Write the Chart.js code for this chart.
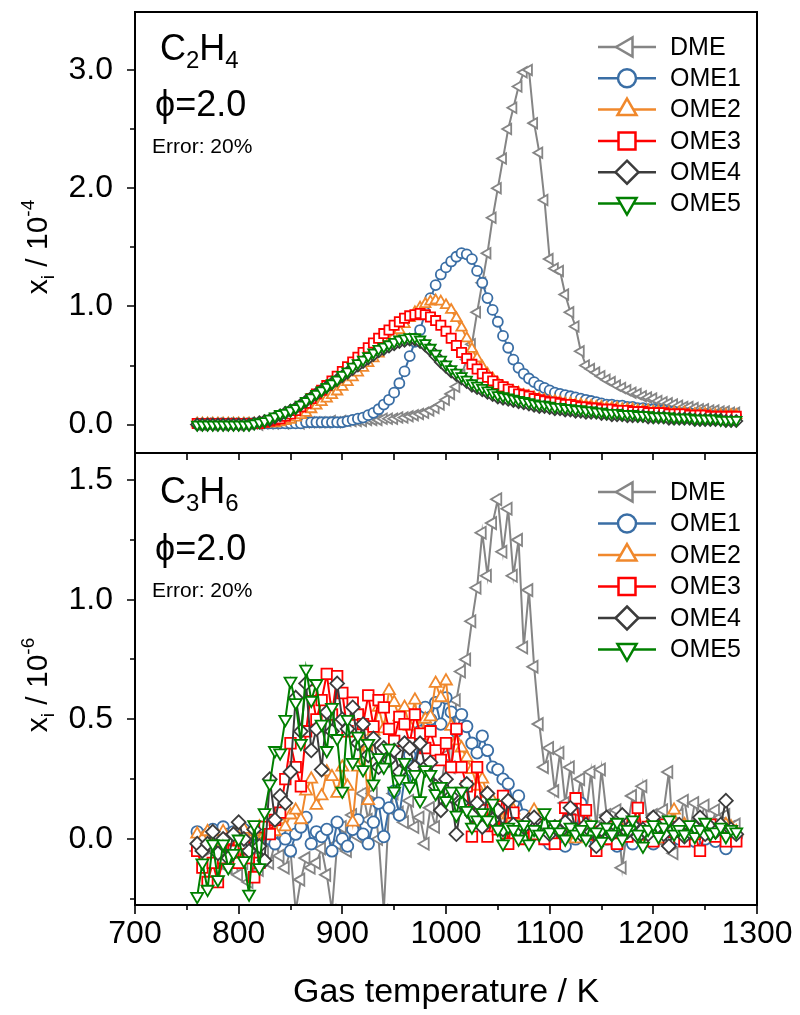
<!DOCTYPE html>
<html>
<head>
<meta charset="utf-8">
<script src="https://cdn.jsdelivr.net/npm/chart.js@4.4.1/dist/chart.umd.min.js"></script>
<style>
  html, body { margin: 0; padding: 0; background: #fff; }
  #wrap { position: relative; width: 800px; height: 1015px; }
  #wrap canvas { position: absolute; left: 0; top: 0; }
</style>
</head>
<body>
<div id="wrap">
  <canvas id="topPanel" width="800" height="1015"></canvas>
  <canvas id="bottomPanel" width="800" height="1015"></canvas>
</div>
<script>
// gas temperature grid (K)
const temps = [
  760, 765, 770, 775, 780, 785, 790, 795, 800, 805,
  810, 815, 820, 825, 830, 835, 840, 845, 850, 855,
  860, 865, 870, 875, 880, 885, 890, 895, 900, 905,
  910, 915, 920, 925, 930, 935, 940, 945, 950, 955,
  960, 965, 970, 975, 980, 985, 990, 995, 1000, 1005,
  1010, 1015, 1020, 1025, 1030, 1035, 1040, 1045, 1050, 1055,
  1060, 1065, 1070, 1075, 1080, 1085, 1090, 1095, 1100, 1105,
  1110, 1115, 1120, 1125, 1130, 1135, 1140, 1145, 1150, 1155,
  1160, 1165, 1170, 1175, 1180, 1185, 1190, 1195, 1200, 1205,
  1210, 1215, 1220, 1225, 1230, 1235, 1240, 1245, 1250, 1255,
  1260, 1265, 1270, 1275, 1280
];

const seriesNames = ['DME', 'OME1', 'OME2', 'OME3', 'OME4', 'OME5'];
const xTicks = [700, 800, 900, 1000, 1100, 1200, 1300];
const xMinor = [750, 850, 950, 1050, 1150, 1250];

// C2H4 mole fraction, x 10^-4
const c2h4Dme = [
  0.00, 0.00, 0.01, 0.00, 0.01, 0.00, 0.01, 0.01, 0.00, 0.01,
  0.01, 0.01, 0.00, 0.01, 0.01, 0.01, 0.02, 0.01, 0.02, 0.02,
  0.01, 0.02, 0.02, 0.02, 0.02, 0.02, 0.03, 0.02, 0.03, 0.03,
  0.03, 0.03, 0.03, 0.04, 0.04, 0.04, 0.05, 0.05, 0.05, 0.06,
  0.06, 0.07, 0.08, 0.09, 0.10, 0.12, 0.14, 0.17, 0.21, 0.26,
  0.32, 0.42, 0.55, 0.68, 0.95, 1.20, 1.45, 1.75, 2.00, 2.25,
  2.50, 2.68, 2.86, 2.98, 3.00, 2.55, 2.30, 1.90, 1.40, 1.32,
  1.30, 1.10, 0.95, 0.83, 0.62, 0.50, 0.47, 0.44, 0.41, 0.38,
  0.36, 0.33, 0.31, 0.29, 0.27, 0.26, 0.24, 0.23, 0.22, 0.20,
  0.19, 0.18, 0.17, 0.16, 0.15, 0.15, 0.14, 0.13, 0.13, 0.12,
  0.12, 0.11, 0.11, 0.10, 0.10
];
const c2h4Ome1 = [
  0.01, 0.01, 0.01, 0.01, 0.01, 0.01, 0.01, 0.01, 0.01, 0.01,
  0.01, 0.01, 0.01, 0.01, 0.01, 0.01, 0.01, 0.01, 0.01, 0.01,
  0.01, 0.02, 0.02, 0.02, 0.02, 0.02, 0.02, 0.02, 0.02, 0.03,
  0.04, 0.05, 0.06, 0.08, 0.10, 0.13, 0.17, 0.21, 0.27, 0.35,
  0.45, 0.58, 0.70, 0.80, 0.95, 1.07, 1.18, 1.27, 1.33, 1.38,
  1.42, 1.45, 1.44, 1.40, 1.30, 1.20, 1.07, 0.97, 0.87, 0.75,
  0.65, 0.55, 0.48, 0.43, 0.39, 0.36, 0.33, 0.31, 0.29, 0.27,
  0.26, 0.25, 0.24, 0.23, 0.22, 0.21, 0.20, 0.19, 0.18, 0.17,
  0.17, 0.16, 0.16, 0.15, 0.15, 0.14, 0.14, 0.13, 0.13, 0.12,
  0.12, 0.11, 0.11, 0.10, 0.10, 0.10, 0.09, 0.09, 0.09, 0.08,
  0.08, 0.08, 0.08, 0.07, 0.07
];
const c2h4Ome2 = [
  0.01, 0.01, 0.01, 0.01, 0.01, 0.01, 0.01, 0.01, 0.01, 0.01,
  0.01, 0.01, 0.01, 0.01, 0.01, 0.01, 0.02, 0.03, 0.04, 0.06,
  0.08, 0.10, 0.13, 0.16, 0.19, 0.22, 0.25, 0.28, 0.32, 0.36,
  0.40, 0.44, 0.48, 0.52, 0.56, 0.60, 0.65, 0.70, 0.75, 0.80,
  0.85, 0.90, 0.95, 0.99, 1.02, 1.04, 1.05, 1.04, 1.01, 0.97,
  0.90, 0.82, 0.73, 0.64, 0.56, 0.49, 0.43, 0.39, 0.35, 0.32,
  0.30, 0.28, 0.27, 0.25, 0.24, 0.23, 0.22, 0.21, 0.20, 0.20,
  0.19, 0.18, 0.18, 0.17, 0.17, 0.16, 0.16, 0.15, 0.15, 0.14,
  0.14, 0.14, 0.13, 0.13, 0.13, 0.12, 0.12, 0.12, 0.11, 0.11,
  0.11, 0.10, 0.10, 0.10, 0.10, 0.09, 0.09, 0.09, 0.09, 0.08,
  0.08, 0.08, 0.08, 0.08, 0.08
];
const c2h4Ome3 = [
  0.01, 0.01, 0.01, 0.01, 0.01, 0.01, 0.01, 0.01, 0.01, 0.01,
  0.01, 0.01, 0.01, 0.02, 0.03, 0.04, 0.05, 0.07, 0.09, 0.12,
  0.15, 0.18, 0.22, 0.26, 0.29, 0.33, 0.37, 0.41, 0.45, 0.49,
  0.53, 0.57, 0.61, 0.65, 0.69, 0.73, 0.77, 0.80, 0.84, 0.87,
  0.90, 0.92, 0.93, 0.94, 0.93, 0.91, 0.88, 0.84, 0.79, 0.73,
  0.67, 0.61, 0.56, 0.51, 0.47, 0.43, 0.40, 0.37, 0.34, 0.32,
  0.30, 0.28, 0.26, 0.25, 0.24, 0.22, 0.21, 0.20, 0.19, 0.19,
  0.18, 0.17, 0.17, 0.16, 0.15, 0.15, 0.14, 0.14, 0.13, 0.13,
  0.13, 0.12, 0.12, 0.12, 0.11, 0.11, 0.11, 0.10, 0.10, 0.10,
  0.10, 0.09, 0.09, 0.09, 0.09, 0.08, 0.08, 0.08, 0.08, 0.07,
  0.07, 0.07, 0.07, 0.07, 0.07
];
const c2h4Ome4 = [
  0.00, 0.00, 0.00, 0.00, 0.00, 0.00, 0.00, 0.00, 0.00, 0.00,
  0.00, 0.01, 0.02, 0.03, 0.04, 0.06, 0.08, 0.10, 0.12, 0.14,
  0.17, 0.20, 0.23, 0.26, 0.29, 0.32, 0.35, 0.38, 0.41, 0.44,
  0.47, 0.50, 0.53, 0.56, 0.59, 0.62, 0.64, 0.66, 0.68, 0.70,
  0.71, 0.72, 0.72, 0.70, 0.67, 0.63, 0.58, 0.53, 0.49, 0.45,
  0.42, 0.39, 0.36, 0.33, 0.31, 0.29, 0.27, 0.25, 0.23, 0.22,
  0.21, 0.20, 0.19, 0.18, 0.17, 0.16, 0.15, 0.15, 0.14, 0.13,
  0.13, 0.12, 0.12, 0.11, 0.11, 0.10, 0.10, 0.10, 0.09, 0.09,
  0.08, 0.08, 0.08, 0.07, 0.07, 0.07, 0.07, 0.06, 0.06, 0.06,
  0.06, 0.05, 0.05, 0.05, 0.05, 0.05, 0.04, 0.04, 0.04, 0.04,
  0.04, 0.04, 0.03, 0.03, 0.03
];
const c2h4Ome5 = [
  0.00, 0.00, 0.00, 0.00, 0.00, 0.00, 0.00, 0.00, 0.00, 0.00,
  0.00, 0.01, 0.02, 0.03, 0.05, 0.07, 0.09, 0.10, 0.12, 0.14,
  0.17, 0.20, 0.23, 0.26, 0.29, 0.32, 0.35, 0.38, 0.42, 0.45,
  0.49, 0.52, 0.55, 0.58, 0.61, 0.64, 0.66, 0.68, 0.70, 0.72,
  0.73, 0.74, 0.74, 0.72, 0.69, 0.65, 0.60, 0.55, 0.51, 0.47,
  0.44, 0.41, 0.38, 0.35, 0.33, 0.31, 0.29, 0.27, 0.25, 0.24,
  0.23, 0.22, 0.21, 0.20, 0.19, 0.18, 0.17, 0.17, 0.16, 0.15,
  0.15, 0.14, 0.14, 0.13, 0.13, 0.12, 0.12, 0.11, 0.11, 0.10,
  0.10, 0.10, 0.09, 0.09, 0.09, 0.08, 0.08, 0.08, 0.07, 0.07,
  0.07, 0.07, 0.06, 0.06, 0.06, 0.06, 0.05, 0.05, 0.05, 0.05,
  0.05, 0.04, 0.04, 0.04, 0.04
];

// C3H6 mole fraction, x 10^-6
const c3h6Dme = [
  -0.05, 0.00, -0.08, -0.02, -0.10, -0.04, -0.12, -0.06, -0.15, -0.10,
  -0.18, -0.08, -0.13, -0.05, -0.10, -0.02, -0.07, -0.12, -0.05, -0.30,
  -0.17, -0.08, -0.12, -0.10, -0.04, -0.15, -0.30, -0.02, 0.05, -0.05,
  0.10, 0.01, 0.19, 0.08, 0.19, 0.00, -0.30, 0.13, 0.19, 0.11,
  0.07, 0.16, 0.05, 0.09, -0.02, 0.13, 0.05, 0.22, 0.35, 0.30,
  0.58, 0.70, 0.75, 0.91, 1.05, 1.28, 1.10, 1.32, 1.42, 1.20,
  1.38, 1.10, 1.25, 0.80, 1.04, 0.72, 0.48, 0.30, 0.38, 0.20,
  0.36, 0.15, 0.30, 0.12, 0.25, 0.10, 0.28, 0.05, 0.29, 0.10,
  0.05, 0.12, -0.12, 0.05, 0.18, 0.02, 0.22, 0.05, 0.10, 0.00,
  0.12, 0.28, -0.06, 0.10, 0.16, 0.03, 0.15, 0.08, 0.14, 0.02,
  0.12, 0.09, 0.10, 0.05, 0.06
];
const c3h6Ome1 = [
  0.03, -0.02, 0.02, 0.04, 0.00, 0.05, 0.02, 0.03, -0.01, 0.04,
  0.01, 0.02, -0.02, 0.03, 0.00, -0.02, 0.04, 0.00, -0.05, 0.02,
  0.05, 0.09, -0.02, 0.03, 0.01, 0.04, -0.05, 0.07, 0.00, -0.03,
  0.04, 0.08, 0.02, -0.02, 0.07, 0.15, 0.01, 0.13, 0.20, 0.10,
  0.25, 0.35, 0.30, 0.45, 0.55, 0.50, 0.57, 0.48, 0.59, 0.53,
  0.45, 0.52, 0.47, 0.40, 0.36, 0.43, 0.37, 0.30, 0.29, 0.25,
  0.23, 0.15, 0.18, 0.10, 0.05, 0.03, 0.02, 0.00, -0.02, 0.01,
  0.04, -0.03, 0.02, 0.00, 0.15, 0.01, 0.03, -0.02, 0.02, 0.00,
  0.05, -0.03, 0.02, 0.04, -0.02, 0.03, 0.00, 0.02, -0.02, 0.04,
  0.01, -0.01, 0.03, 0.00, 0.05, 0.02, -0.01, 0.04, 0.00, 0.02,
  -0.01, 0.03, -0.04, 0.02, 0.01
];
const c3h6Ome2 = [
  0.02, 0.00, 0.03, -0.02, 0.01, 0.03, -0.01, 0.02, 0.00, 0.04,
  -0.02, 0.03, 0.05, 0.02, 0.06, 0.03, 0.08, 0.05, 0.10, 0.12,
  0.08, 0.20, 0.25, 0.14, 0.18, 0.28, 0.26, 0.19, 0.30, 0.22,
  0.07, 0.30, 0.40, 0.16, 0.45, 0.55, 0.46, 0.62, 0.57, 0.51,
  0.55, 0.47, 0.58, 0.43, 0.50, 0.51, 0.65, 0.59, 0.66, 0.47,
  0.41, 0.38, 0.34, 0.29, 0.22, 0.25, 0.19, 0.16, 0.12, 0.08,
  0.10, 0.12, 0.06, 0.04, 0.08, 0.12, 0.05, 0.02, 0.04, 0.01,
  0.05, 0.02, 0.03, 0.00, 0.04, 0.02, 0.05, 0.01, 0.03, 0.06,
  0.02, 0.00, 0.04, 0.02, 0.05, 0.01, 0.03, 0.06, 0.02, 0.04,
  0.00, 0.05, 0.12, 0.03, 0.06, 0.02, 0.04, 0.07, 0.03, 0.05,
  0.01, 0.04, 0.06, 0.05, 0.03
];
const c3h6Ome3 = [
  -0.05, -0.12, -0.18, -0.10, -0.18, -0.08, 0.00, -0.05, -0.10, -0.02,
  -0.08, -0.16, -0.10, 0.05, 0.02, 0.08, 0.11, 0.25, 0.40, 0.30,
  0.22, 0.45, 0.62, 0.50, 0.58, 0.69, 0.52, 0.68, 0.61, 0.45,
  0.57, 0.52, 0.48, 0.60, 0.47, 0.58, 0.55, 0.46, 0.41, 0.51,
  0.48, 0.40, 0.52, 0.44, 0.38, 0.45, 0.37, 0.33, 0.40, 0.30,
  0.46, 0.30, 0.22, 0.01, 0.30, 0.12, 0.01, 0.08, 0.04, 0.18,
  -0.02, 0.11, 0.03, 0.00, 0.05, 0.02, 0.06, 0.00, 0.04, -0.02,
  0.05, 0.13, 0.08, 0.17, 0.04, 0.12, 0.02, -0.05, 0.03, 0.00,
  0.05, -0.02, 0.03, 0.01, 0.06, 0.13, 0.02, 0.05, -0.01, 0.04,
  0.06, 0.00, 0.03, 0.05, -0.01, 0.04, 0.02, -0.05, 0.03, 0.06,
  0.01, 0.04, -0.01, 0.03, -0.01
];
const c3h6Ome4 = [
  -0.02, -0.05, -0.02, 0.03, -0.06, 0.00, -0.08, 0.02, 0.07, 0.00,
  -0.05, 0.04, -0.03, -0.09, 0.25, 0.08, 0.18, 0.15, 0.28, 0.59,
  0.45, 0.65, 0.37, 0.46, 0.29, 0.53, 0.45, 0.65, 0.50, 0.46,
  0.55, 0.40, 0.48, 0.35, 0.42, 0.30, 0.38, 0.33, 0.37, 0.28,
  0.40, 0.38, 0.30, 0.40, 0.30, 0.32, 0.22, 0.12, 0.25, 0.18,
  0.02, 0.15, 0.23, 0.10, 0.15, 0.05, 0.19, 0.08, 0.12, 0.04,
  0.16, 0.06, 0.02, 0.05, 0.08, 0.09, 0.03, 0.06, 0.02, 0.05,
  0.03, 0.07, 0.13, 0.04, 0.02, 0.06, 0.03, -0.03, 0.04, 0.09,
  0.02, 0.05, 0.10, 0.03, 0.06, 0.01, 0.04, 0.02, 0.09, 0.05,
  0.02, -0.03, 0.04, 0.06, 0.01, 0.03, 0.05, 0.09, 0.02, 0.05,
  0.03, 0.06, 0.16, 0.04, 0.02
];
const c3h6Ome5 = [
  -0.24, -0.10, -0.21, -0.02, -0.17, -0.02, -0.12, -0.06, 0.00, -0.09,
  -0.23, 0.06, -0.12, 0.11, 0.23, 0.37, 0.36, 0.50, 0.66, 0.57,
  0.40, 0.71, 0.58, 0.65, 0.48, 0.37, 0.55, 0.42, 0.20, 0.50,
  0.32, 0.43, 0.29, 0.40, 0.23, 0.34, 0.30, 0.38, 0.20, 0.25,
  0.32, 0.22, 0.27, 0.16, 0.29, 0.27, 0.19, 0.22, 0.16, 0.20,
  0.10, 0.20, 0.12, 0.05, 0.08, 0.11, 0.08, 0.15, 0.04, -0.02,
  0.05, 0.04, 0.00, 0.06, -0.02, 0.04, 0.02, 0.11, 0.03, 0.06,
  0.03, 0.00, 0.05, 0.02, 0.04, 0.00, 0.06, 0.03, -0.01, 0.05,
  0.02, 0.07, 0.00, 0.04, 0.08, 0.02, -0.03, 0.04, 0.06, 0.01,
  0.05, 0.08, 0.02, 0.04, 0.02, 0.06, 0.01, 0.04, 0.07, 0.02,
  0.03, 0.05, 0.01, 0.04, 0.03
];

// marker look for each series
const seriesColors = ['#858585', '#3a6ea5', '#f0882c', '#ff0000', '#3c3c3c', '#008000'];
const seriesShapes = ['triangle', 'circle', 'triangle', 'rect', 'rectRot', 'triangle'];
const seriesRotation = [-90, 0, 0, 0, 0, 180];
const seriesRadius = [6, 5, 6, 6.5, 6, 6];

const FONT = '"Liberation Sans", Arial, Helvetica, sans-serif';
Chart.defaults.font.family = FONT;
Chart.defaults.color = '#000';

function makeDatasets(lists, grow) {
  return lists.map((vals, k) => ({
    label: seriesNames[k],
    data: temps.map((t, i) => ({ x: t, y: vals[i] })),
    borderColor: seriesColors[k],
    backgroundColor: '#fff',
    borderWidth: 2,
    pointStyle: seriesShapes[k],
    pointRotation: seriesRotation[k],
    pointRadius: seriesRadius[k] * grow,
    pointBorderColor: seriesColors[k],
    pointBackgroundColor: '#fff',
    pointBorderWidth: 1.8,
    tension: 0,
    order: 5 - k
  }));
}

// marker used in the legend
function marker(ctx, shape, rot, r, x, y, color) {
  ctx.save();
  ctx.translate(x, y);
  ctx.rotate(rot * Math.PI / 180);
  ctx.beginPath();
  if (shape === 'circle') {
    ctx.arc(0, 0, r, 0, Math.PI * 2);
  } else if (shape === 'triangle') {
    for (let j = 0; j < 3; j++) {
      const a = j * 2 * Math.PI / 3;
      ctx.lineTo(Math.sin(a) * r, -Math.cos(a) * r);
    }
    ctx.closePath();
  } else if (shape === 'rect') {
    const s = r * Math.SQRT1_2;
    ctx.rect(-s, -s, 2 * s, 2 * s);
  } else {
    ctx.moveTo(0, -r); ctx.lineTo(r, 0); ctx.lineTo(0, r); ctx.lineTo(-r, 0);
    ctx.closePath();
  }
  ctx.fillStyle = '#fff';
  ctx.fill();
  ctx.lineWidth = 2.5;
  ctx.strokeStyle = color;
  ctx.stroke();
  ctx.restore();
}

function richText(ctx, x, y, parts) {
  parts.forEach(p => {
    ctx.font = p.size + 'px ' + FONT;
    ctx.fillText(p.t, x, y + (p.dy || 0));
    x += ctx.measureText(p.t).width;
  });
}

const panelDeco = {
  id: 'panelDeco',
  afterDraw(chart, args, o) {
    const { ctx, chartArea: a } = chart;
    const xs = chart.scales.x, ys = chart.scales.y;
    ctx.save();
    ctx.strokeStyle = '#000';
    ctx.fillStyle = '#000';

    // ticks
    ctx.lineWidth = 1.6;
    ctx.beginPath();
    const yTick = (v, len) => {
      const p = Math.round(ys.getPixelForValue(v));
      ctx.moveTo(a.left - len, p); ctx.lineTo(a.left, p);
    };
    o.yMajor.forEach(v => yTick(v, 8));
    o.yMinor.forEach(v => yTick(v, 5));
    if (o.xAxis) {
      xTicks.forEach(v => {
        const p = Math.round(xs.getPixelForValue(v));
        ctx.moveTo(p, a.bottom); ctx.lineTo(p, a.bottom + 9);
      });
      xMinor.forEach(v => {
        const p = Math.round(xs.getPixelForValue(v));
        ctx.moveTo(p, a.bottom); ctx.lineTo(p, a.bottom + 5);
      });
      xMinor.concat(xTicks.slice(1, -1)).forEach(v => {
        const p = Math.round(xs.getPixelForValue(v));
        ctx.moveTo(p, a.top); ctx.lineTo(p, a.top + 7);
      });
    }
    ctx.stroke();

    // frame
    ctx.lineWidth = 2;
    ctx.strokeRect(a.left, a.top, a.right - a.left, a.bottom - a.top);

    // y-axis title  x_i / 10^-n
    ctx.save();
    ctx.translate(47, o.titleY);
    ctx.rotate(-Math.PI / 2);
    const tParts = [
      { t: 'x', size: 30 }, { t: 'i', size: 19, dy: 7 },
      { t: ' / 10', size: 30 }, { t: o.exp, size: 19, dy: -13 }
    ];
    let tw = 0;
    tParts.forEach(p => { ctx.font = p.size + 'px ' + FONT; tw += ctx.measureText(p.t).width; });
    ctx.textBaseline = 'alphabetic';
    richText(ctx, -tw / 2, 0, tParts);
    ctx.restore();

    // species, phi and error notes
    ctx.textBaseline = 'alphabetic';
    ctx.textAlign = 'left';
    richText(ctx, 160, o.noteY[0], o.species);
    richText(ctx, 155, o.noteY[1], [{ t: '\u03D5=2.0', size: 36 }]);
    richText(ctx, 152, o.noteY[2], [{ t: 'Error: 20%', size: 21 }]);

    // legend: line with marker, then name
    chart.data.datasets.forEach((ds, k) => {
      const y = o.legendY + k * o.legendStep;
      ctx.beginPath();
      ctx.moveTo(598, y); ctx.lineTo(656, y);
      ctx.lineWidth = 2.5;
      ctx.strokeStyle = seriesColors[k];
      ctx.stroke();
      const big = { circle: 9, triangle: 11, rect: 12, rectRot: 11.5 }[seriesShapes[k]];
      marker(ctx, seriesShapes[k], seriesRotation[k], big, 627, y, seriesColors[k]);
      ctx.fillStyle = '#000';
      ctx.font = '25px ' + FONT;
      ctx.textBaseline = 'middle';
      ctx.fillText(ds.label, 670, y + 1);
    });
    ctx.restore();
  }
};

function panelOptions(cfg) {
  return {
    responsive: false,
    animation: false,
    devicePixelRatio: 1,
    layout: { padding: cfg.padding },
    plugins: {
      legend: { display: false },
      tooltip: { enabled: false },
      panelDeco: cfg.deco
    },
    scales: {
      x: {
        type: 'linear', min: 700, max: 1300,
        display: cfg.showX,
        afterBuildTicks: s => { s.ticks = xTicks.map(v => ({ value: v })); },
        afterFit: s => {
          if (cfg.showX) s.height = 110;
          s.paddingLeft = 0; s.paddingRight = 0;
        },
        grid: { display: false, drawTicks: false },
        border: { display: false },
        ticks: { font: { size: 32 }, padding: 10, maxRotation: 0, autoSkip: false, color: '#000', callback: v => String(v) },
        title: { display: true, text: 'Gas temperature / K', font: { size: 34 }, color: '#000', padding: { top: 0, bottom: 2 } }
      },
      y: {
        type: 'linear', min: cfg.yMin, max: cfg.yMax,
        afterBuildTicks: s => { s.ticks = cfg.deco.yMajor.map(v => ({ value: v })); },
        afterFit: s => { s.width = 135; s.paddingTop = 0; s.paddingBottom = 0; },
        grid: { display: false, drawTicks: false },
        border: { display: false },
        ticks: { font: { size: 32 }, padding: 22, color: '#000', callback: v => v.toFixed(1) }
      }
    }
  };
}

new Chart(document.getElementById('topPanel'), {
  type: 'line',
  data: { datasets: makeDatasets([c2h4Dme, c2h4Ome1, c2h4Ome2, c2h4Ome3, c2h4Ome4, c2h4Ome5], 1) },
  options: panelOptions({
    padding: { left: 0, right: 43, top: 12, bottom: 562 },
    showX: false,
    yMin: -0.24, yMax: 3.49,
    deco: {
      yMajor: [0, 1, 2, 3], yMinor: [0.5, 1.5, 2.5],
      xAxis: false, exp: '-4', titleY: 247,
      species: [{ t: 'C', size: 36 }, { t: '2', size: 24, dy: 8 }, { t: 'H', size: 36 }, { t: '4', size: 24, dy: 8 }],
      noteY: [60, 116, 153],
      legendY: 47, legendStep: 31.3
    }
  }),
  plugins: [panelDeco]
});

new Chart(document.getElementById('bottomPanel'), {
  type: 'line',
  data: { datasets: makeDatasets([c3h6Dme, c3h6Ome1, c3h6Ome2, c3h6Ome3, c3h6Ome4, c3h6Ome5], 1.15) },
  options: panelOptions({
    padding: { left: 0, right: 43, top: 453, bottom: 0 },
    showX: true,
    yMin: -0.276, yMax: 1.613,
    deco: {
      yMajor: [0, 0.5, 1, 1.5], yMinor: [-0.25, 0.25, 0.75, 1.25],
      xAxis: true, exp: '-6', titleY: 685,
      species: [{ t: 'C', size: 36 }, { t: '3', size: 24, dy: 8 }, { t: 'H', size: 36 }, { t: '6', size: 24, dy: 8 }],
      noteY: [503, 560, 597],
      legendY: 492, legendStep: 31.5
    }
  }),
  plugins: [panelDeco]
});
</script>
</body>
</html>
